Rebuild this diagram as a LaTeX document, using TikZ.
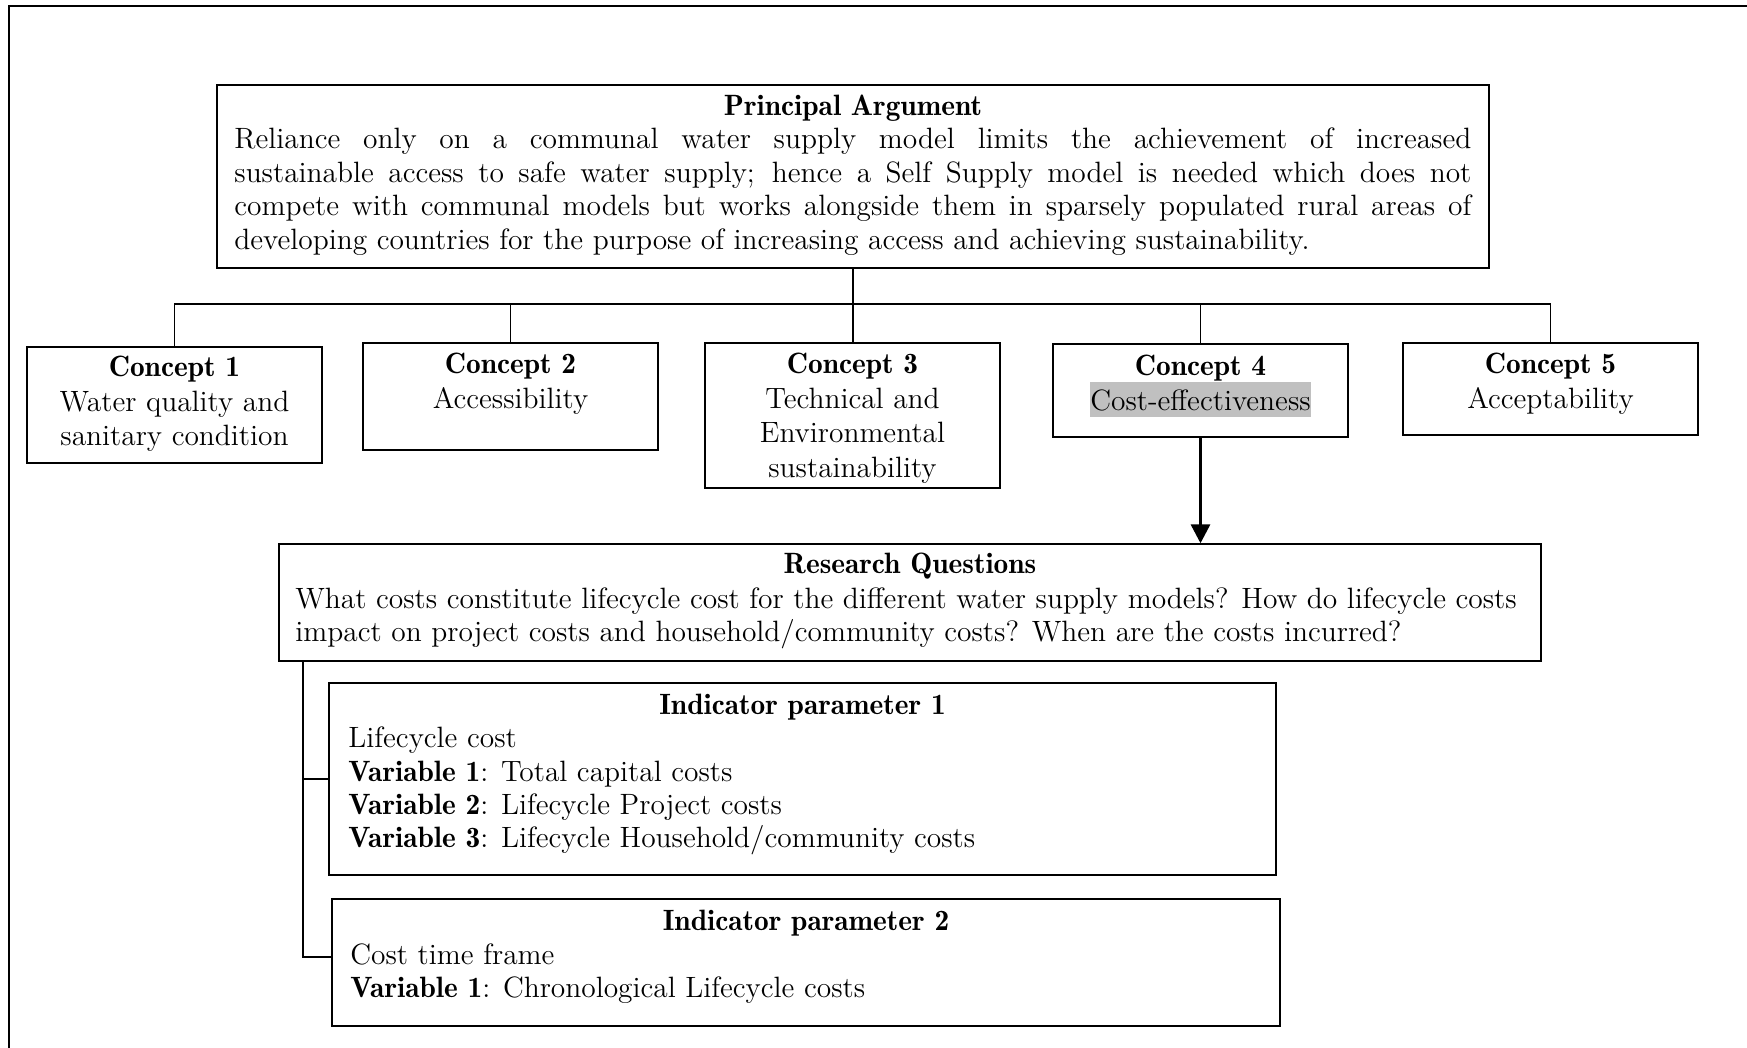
\documentclass[tikz,border=0pt]{standalone}
\usepackage{fontspec}
\usetikzlibrary{arrows.meta}
\newfontface\demifont{lmromandemi10-regular.otf}
\definecolor{hlgrey}{HTML}{C0C0C0}
% centred and left-aligned line blocks; the base line is the first line
\newcommand\cblock[1]{\vtop{\baselineskip=17.2pt\halign{\hfil##\hfil\cr#1\crcr}}}
\newcommand\lblock[1]{\vtop{\baselineskip=16.67pt\halign{##\hfil\cr#1\crcr}}}
\newcommand\hd[1]{{\demifont #1}}
\newcommand\hlt[1]{{\fboxsep=0pt\colorbox{hlgrey}{\rule[-3.5pt]{0pt}{17.5pt}#1}}}
\begin{document}
\begin{tikzpicture}[x=0.5pt,y=-0.5pt,
  font=\fontsize{14.7}{16.67}\selectfont,
  box/.style={draw, line width=0.7pt, inner sep=0pt},
  link/.style={line width=0.55pt},
  txt/.style={inner sep=0pt, anchor=base},
  ltxt/.style={inner sep=0pt, anchor=base west}]
\useasboundingbox (0,0) rectangle (1747,1048);
% page frame (top and left edges)
\draw[line width=1pt] (9,1048) -- (9,6) -- (1747,6);

% boxes
\node[box, minimum width=636pt, minimum height=91.5pt] (P) at (853,176.5) {};
\node[box, minimum width=147.5pt, minimum height=58pt] (C1) at (174.5,405) {};
\node[box, minimum width=147.5pt, minimum height=53.5pt] (C2) at (510.5,396.5) {};
\node[box, minimum width=147.5pt, minimum height=72.5pt] (C3) at (852.5,415.5) {};
\node[box, minimum width=147.5pt, minimum height=46.5pt] (C4) at (1200.5,390.5) {};
\node[box, minimum width=147.5pt, minimum height=46pt] (C5) at (1550.5,389) {};
\node[box, minimum width=631pt, minimum height=58.5pt] (RQ) at (910,602.5) {};
\node[box, minimum width=473.5pt, minimum height=96pt] (IP1) at (802.5,779) {};
\node[box, minimum width=474pt, minimum height=63.5pt] (IP2) at (806,962.5) {};

% principal argument
\node[txt] (Pt) at (853,116) {\hd{Principal Argument}};
\node[ltxt] (Pb) at (234,149) {\vtop{\baselineskip=16.67pt
  \hbox to 618.5pt{Reliance only on a communal water supply model limits the achievement of increased}
  \hbox to 618.5pt{sustainable access to safe water supply; hence a Self Supply model is needed which does not}
  \hbox to 618.5pt{compete with communal models but works alongside them in sparsely populated rural areas of}
  \hbox{developing countries for the purpose of increasing access and achieving sustainability.}}};

% concepts
\node[txt] (C1t) at (174.5,377) {\cblock{\hd{Concept 1}\cr Water quality and\cr sanitary condition}};
\node[txt] (C2t) at (510.5,374) {\cblock{\hd{Concept 2}\cr Accessibility}};
\node[txt] (C3t) at (852.5,374) {\cblock{\hd{Concept 3}\cr Technical and\cr Environmental\cr sustainability}};
\node[txt] (C4t) at (1200.5,376) {\cblock{\hd{Concept 4}\cr \hlt{Cost-effectiveness}}};
\node[txt] (C5t) at (1550.5,374) {\cblock{\hd{Concept 5}\cr Acceptability}};

% research questions
\node[txt] (RQt) at (910,573.3) {\hd{Research Questions}};
\node[ltxt] (RQb) at (295,608.3) {\lblock{What costs constitute lifecycle cost for the different water supply models? How do lifecycle costs\cr
  impact on project costs and household/community costs? When are the costs incurred?}};

% indicator parameters
\node[txt] (I1t) at (802.5,714) {\hd{Indicator parameter 1}};
\node[ltxt] (I1b) at (348,747.7) {\lblock{Lifecycle cost\cr
  \hd{Variable 1}: Total capital costs\cr
  \hd{Variable 2}: Lifecycle Project costs\cr
  \hd{Variable 3}: Lifecycle Household/community costs}};
\node[txt] (I2t) at (806,930) {\hd{Indicator parameter 2}};
\node[ltxt] (I2b) at (350,964.5) {\lblock{Cost time frame\cr
  \hd{Variable 1}: Chronological Lifecycle costs}};

% connectors
\coordinate (bus) at (0,304);
\coordinate (trunk) at (303,0);
\draw[link] (P.south) -- (P.south |- C3.north);
\draw[link] (C1.north) -- (C1.north |- bus) -- (C5.north |- bus) -- (C5.north);
\draw[link] (C2.north) -- (C2.north |- bus);
\draw[link] (C4.north) -- (C4.north |- bus);
\draw[line width=1.6pt, -{Triangle[length=9.5pt,width=9.5pt]}] (C4.south) -- (C4.south |- RQ.north);
\draw[link] (trunk |- RQ.south) |- ([yshift=2.75pt]IP2.west);
\draw[link] (trunk |- IP1.west) -- (IP1.west);
\end{tikzpicture}
\end{document}
